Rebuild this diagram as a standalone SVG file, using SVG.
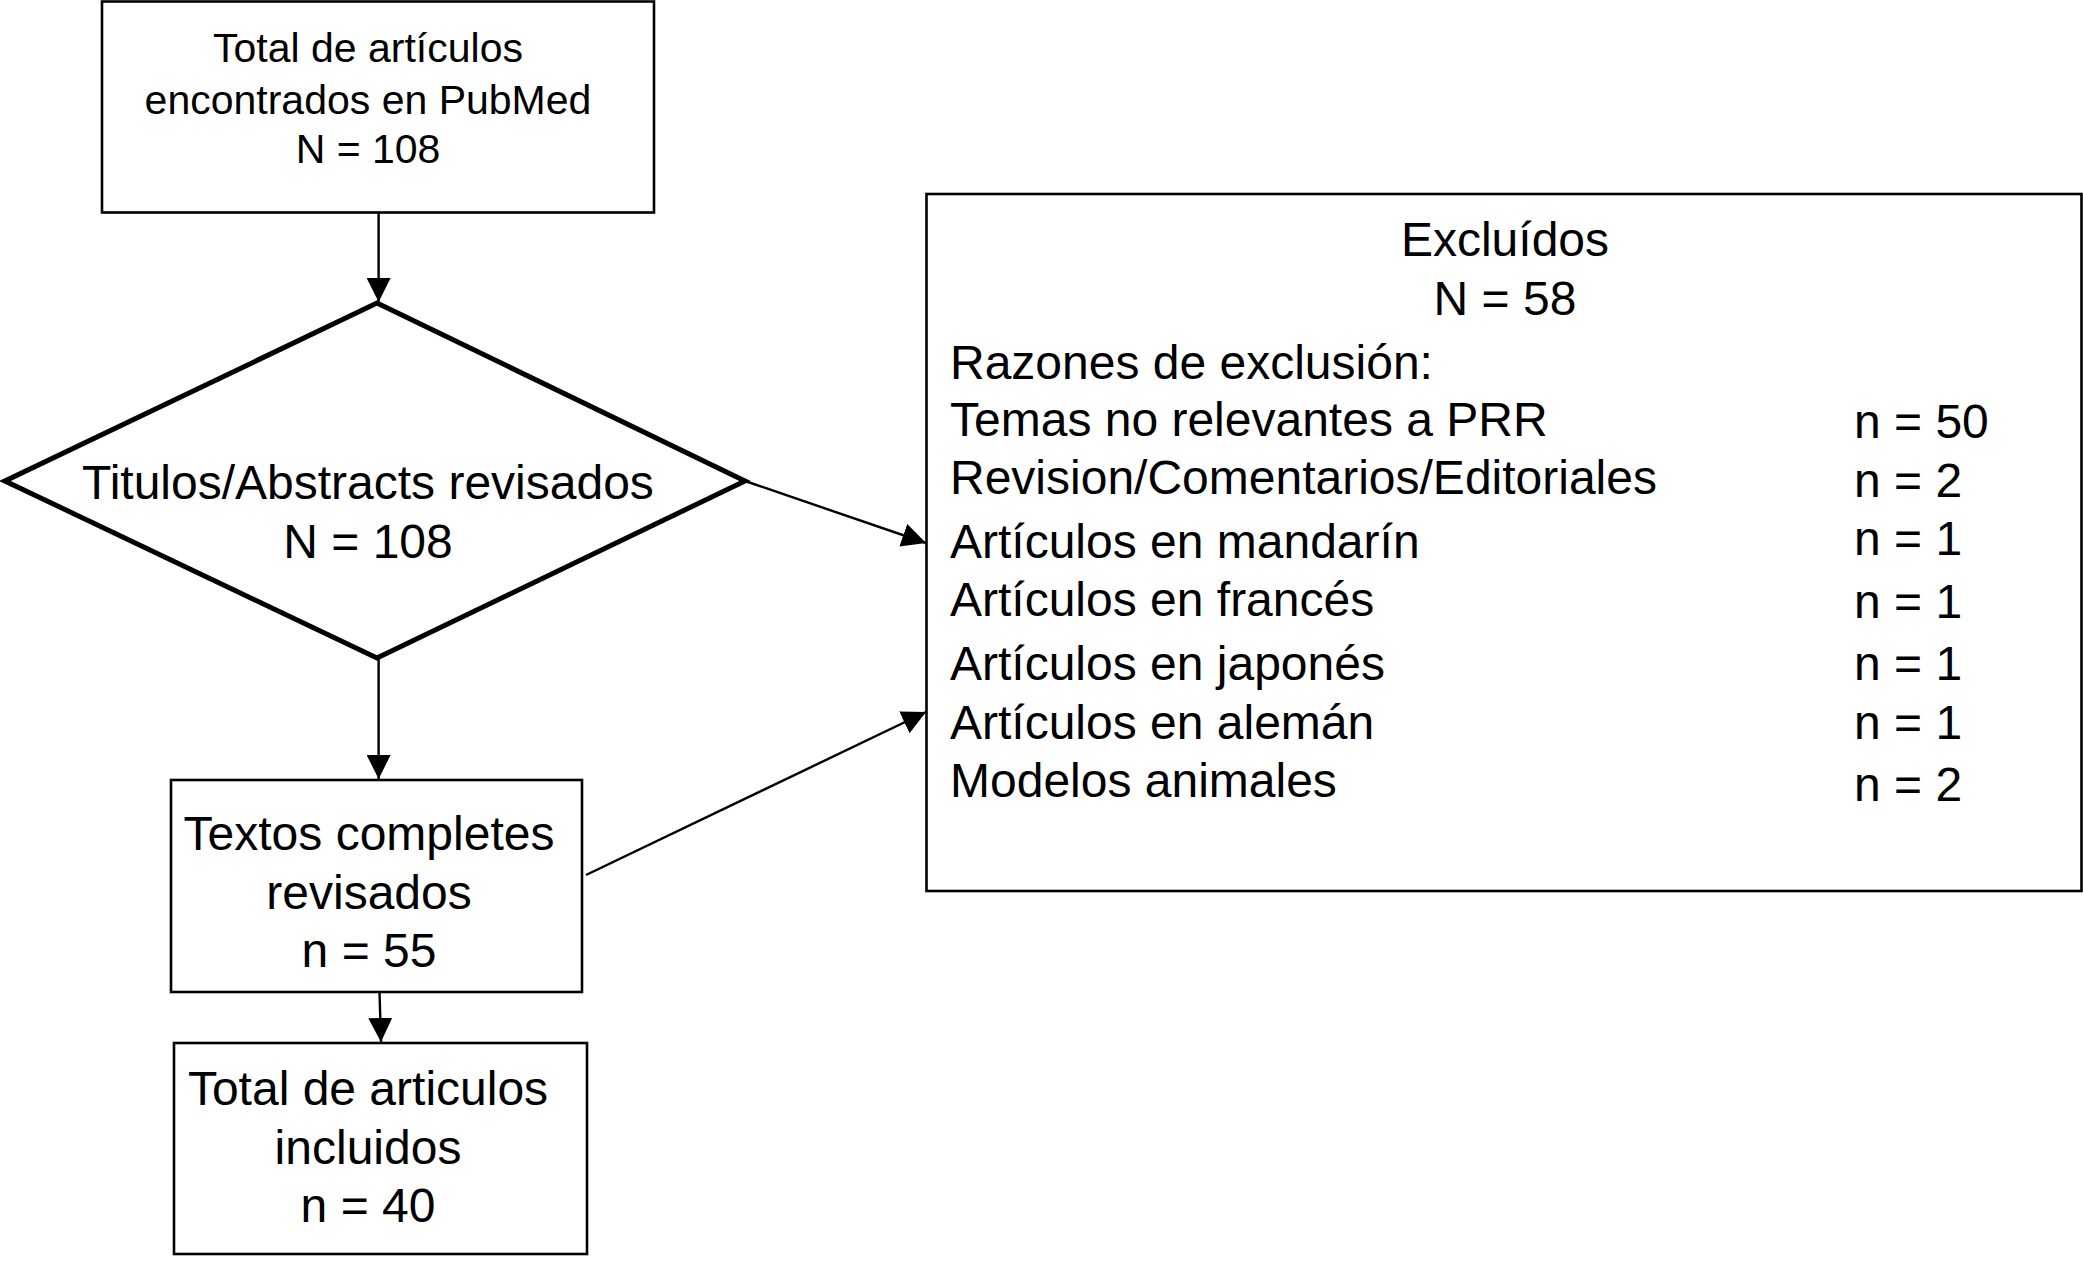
<svg xmlns="http://www.w3.org/2000/svg" width="2083" height="1261" viewBox="0 0 2083 1261">
<style>
.box{fill:#fff;stroke:#000;stroke-width:2.6}
.dia{fill:#fff;stroke:#000;stroke-width:5;stroke-linejoin:miter}
.t{font-family:"Liberation Sans",Arial,Helvetica,sans-serif;fill:#000}
.s{font-size:41px}
.m{font-size:48px}
.c{text-anchor:middle}
.ln{stroke:#000;stroke-width:2.4;fill:none}
</style>
<defs>
<marker id="arr" viewBox="0 0 24 24" refX="24" refY="12" markerWidth="24" markerHeight="24" markerUnits="userSpaceOnUse" orient="auto">
<path d="M0,0 L24,12 L0,24 Z" fill="#000"/>
</marker>
</defs>
<rect width="2083" height="1261" fill="#fff"/>
<g id="connectors">
<line class="ln" x1="378.6" y1="212.5" x2="378.6" y2="302" marker-end="url(#arr)"/>
<line class="ln" x1="378.6" y1="658" x2="378.6" y2="779" marker-end="url(#arr)"/>
<line class="ln" x1="379.5" y1="992" x2="381" y2="1042" marker-end="url(#arr)"/>
<line class="ln" x1="745" y1="481" x2="926" y2="543" marker-end="url(#arr)"/>
<line class="ln" x1="586" y1="875" x2="926" y2="712" marker-end="url(#arr)"/>
</g>
<g id="node-pubmed">
<rect class="box" x="102" y="1.5" width="552" height="211"/>
<text class="t s c" x="368" y="62">Total de artículos</text>
<text class="t s c" x="368" y="114">encontrados en PubMed</text>
<text class="t s c" x="368" y="163">N = 108</text>
</g>
<g id="node-titulos">
<polygon class="dia" points="377,303 745,481 377,658 5,481"/>
<text class="t m c" x="368" y="499">Titulos/Abstracts revisados</text>
<text class="t m c" x="368" y="558">N = 108</text>
</g>
<g id="node-textos">
<rect class="box" x="171" y="780" width="411" height="212"/>
<text class="t m c" x="369" y="850">Textos completes</text>
<text class="t m c" x="369" y="909">revisados</text>
<text class="t m c" x="369" y="967">n = 55</text>
</g>
<g id="node-incluidos">
<rect class="box" x="174" y="1043" width="413" height="211"/>
<text class="t m c" x="368" y="1105">Total de articulos</text>
<text class="t m c" x="368" y="1164">incluidos</text>
<text class="t m c" x="368" y="1222">n = 40</text>
</g>
<g id="node-excluidos">
<rect class="box" x="926.5" y="194" width="1155" height="697"/>
<text class="t m c" x="1505" y="256">Excluídos</text>
<text class="t m c" x="1505" y="315">N = 58</text>
<text class="t m" x="950" y="379">Razones de exclusión:</text>
<text class="t m" x="950" y="436">Temas no relevantes a PRR</text>
<text class="t m" x="950" y="494">Revision/Comentarios/Editoriales</text>
<text class="t m" x="950" y="558">Artículos en mandarín</text>
<text class="t m" x="950" y="616">Artículos en francés</text>
<text class="t m" x="950" y="680">Artículos en japonés</text>
<text class="t m" x="950" y="739">Artículos en alemán</text>
<text class="t m" x="950" y="797">Modelos animales</text>
<text class="t m" x="1854" y="438">n = 50</text>
<text class="t m" x="1854" y="497">n = 2</text>
<text class="t m" x="1854" y="555">n = 1</text>
<text class="t m" x="1854" y="618">n = 1</text>
<text class="t m" x="1854" y="680">n = 1</text>
<text class="t m" x="1854" y="739">n = 1</text>
<text class="t m" x="1854" y="801">n = 2</text>
</g>
</svg>
